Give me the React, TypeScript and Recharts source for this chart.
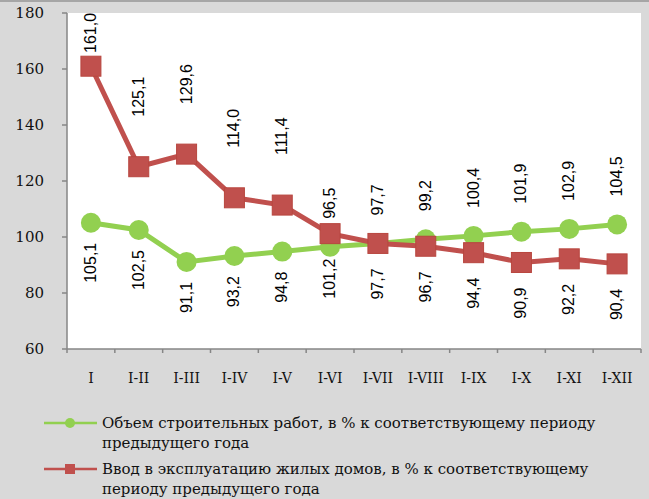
import { LineChart, Line, XAxis, YAxis, CartesianGrid, LabelList } from 'recharts';

const periods = ['I', 'I-II', 'I-III', 'I-IV', 'I-V', 'I-VI', 'I-VII', 'I-VIII', 'I-IX', 'I-X', 'I-XI', 'I-XII'];
const constructionWorks = [105.1, 102.5, 91.1, 93.2, 94.8, 96.5, 97.7, 99.2, 100.4, 101.9, 102.9, 104.5];
const housingCommissioned = [161.0, 125.1, 129.6, 114.0, 111.4, 101.2, 97.7, 96.7, 94.4, 90.9, 92.2, 90.4];
const yTicks = [60, 80, 100, 120, 140, 160, 180];

const seriesNames = {
  works: 'Объем строительных работ, в % к соответствующему периоду предыдущего года',
  housing: 'Ввод в эксплуатацию жилых домов, в % к соответствующему периоду предыдущего года',
};

const GREEN = '#92d050';
const RED = '#c0504d';
const AXIS = '#868686';
const SERIF = '"DejaVu Serif", "Liberation Serif", serif';
const SANS = '"Liberation Sans", Arial, sans-serif';

const W = 649;
const H = 400;
const PLOT_LEFT = 67;
const PLOT_RIGHT = 641;
const PLOT_TOP = 13;
const BAND = (PLOT_RIGHT - PLOT_LEFT) / periods.length;
// from I-VI onward the labels swap sides
const SWAP_AT = 5;

const data = periods.map((p, i) => ({
  period: p,
  works: constructionWorks[i],
  housing: housingCommissioned[i],
}));

const fmt = (v: number) => v.toFixed(1).replace('.', ',');

function makeLabel(series: 'works' | 'housing') {
  return (props: any) => {
    const { x, y, value, index } = props;
    if (x == null || y == null) return null;
    const swapped = index >= SWAP_AT;
    const above = series === 'housing' ? !swapped : swapped;
    let ly: number;
    let anchor: 'start' | 'end';
    if (above) {
      const off = series === 'housing' ? 50 : 28;
      ly = Math.max(y - off, PLOT_TOP + 40);
      anchor = 'start';
    } else {
      const off = series === 'housing' ? 25 : 20;
      ly = y + off;
      anchor = 'end';
    }
    return (
      <text
        x={x + 5}
        y={ly}
        transform={`rotate(-90 ${x + 5} ${ly})`}
        textAnchor={anchor}
        fontFamily={SANS}
        fontSize={16}
        fill="#000"
      >
        {fmt(value)}
      </text>
    );
  };
}

const XTick = (props: any) => {
  const { x, y, payload, index } = props;
  const left = x - BAND / 2;
  return (
    <g>
      <line x1={left} y1={y - 8} x2={left} y2={y - 4} stroke={AXIS} strokeWidth={1.5} />
      {index === periods.length - 1 && (
        <line x1={left + BAND} y1={y - 8} x2={left + BAND} y2={y - 4} stroke={AXIS} strokeWidth={1.5} />
      )}
      <text x={x} y={y + 26} textAnchor="middle" fontFamily={SERIF} fontSize={14} fill="#111">
        {payload.value}
      </text>
    </g>
  );
};

const SquareDot = (props: any) => {
  const { cx, cy } = props;
  if (cx == null || cy == null) return null;
  return <rect x={cx - 10} y={cy - 10} width={20} height={20} fill={RED} stroke="#b8463f" strokeWidth={1} />;
};

function LegendRow({ color, square, text, top }: { color: string; square?: boolean; text: string; top: number }) {
  return (
    <div style={{ position: 'absolute', left: 44, top, width: 600, display: 'flex', alignItems: 'flex-start' }}>
      <svg width={58} height={20} style={{ flex: 'none' }}>
        <line x1={0} y1={10} x2={53} y2={10} stroke={color} strokeWidth={2.5} />
        {square ? (
          <rect x={21} y={5} width={10} height={10} fill={color} />
        ) : (
          <circle cx={26} cy={10} r={5} fill={color} />
        )}
      </svg>
      <div style={{ fontFamily: SERIF, fontSize: 15, lineHeight: '20px', color: '#111', width: 512 }}>{text}</div>
    </div>
  );
}

export default function App() {
  return (
    <div style={{ position: 'absolute', left: 0, top: 0, width: W, height: 499, background: '#d9d9d9', overflow: 'hidden' }}>
      <div style={{ position: 'absolute', left: 0, top: 0, width: W, height: 2, background: '#a6a6a6' }} />
      <LineChart width={W} height={H} data={data} margin={{ top: PLOT_TOP, right: W - PLOT_RIGHT, left: 0, bottom: 0 }}>
        <CartesianGrid horizontal={false} vertical={false} fill="#ffffff" stroke="none" />
        <XAxis
          dataKey="period"
          height={51}
          padding={{ left: BAND / 2, right: BAND / 2 }}
          tickLine={false}
          axisLine={{ stroke: AXIS, strokeWidth: 1.5 }}
          tick={<XTick />}
          interval={0}
        />
        <YAxis
          width={PLOT_LEFT}
          domain={[60, 180]}
          ticks={yTicks}
          interval={0}
          axisLine={{ stroke: AXIS, strokeWidth: 1.5 }}
          tickLine={{ stroke: AXIS, strokeWidth: 1.5 }}
          tickSize={5}
          tickMargin={18}
          tick={{ fontFamily: SERIF, fontSize: 15, fill: '#111' }}
        />
        <Line
          dataKey="works"
          name={seriesNames.works}
          stroke={GREEN}
          strokeWidth={5}
          dot={{ r: 10, fill: GREEN, stroke: GREEN, strokeWidth: 0 }}
          isAnimationActive={false}
        >
          <LabelList dataKey="works" content={makeLabel('works')} />
        </Line>
        <Line
          dataKey="housing"
          name={seriesNames.housing}
          stroke={RED}
          strokeWidth={5}
          dot={<SquareDot />}
          isAnimationActive={false}
        >
          <LabelList dataKey="housing" content={makeLabel('housing')} />
        </Line>
      </LineChart>
      <LegendRow color={GREEN} text={seriesNames.works} top={413} />
      <LegendRow color={RED} square text={seriesNames.housing} top={459} />
    </div>
  );
}
